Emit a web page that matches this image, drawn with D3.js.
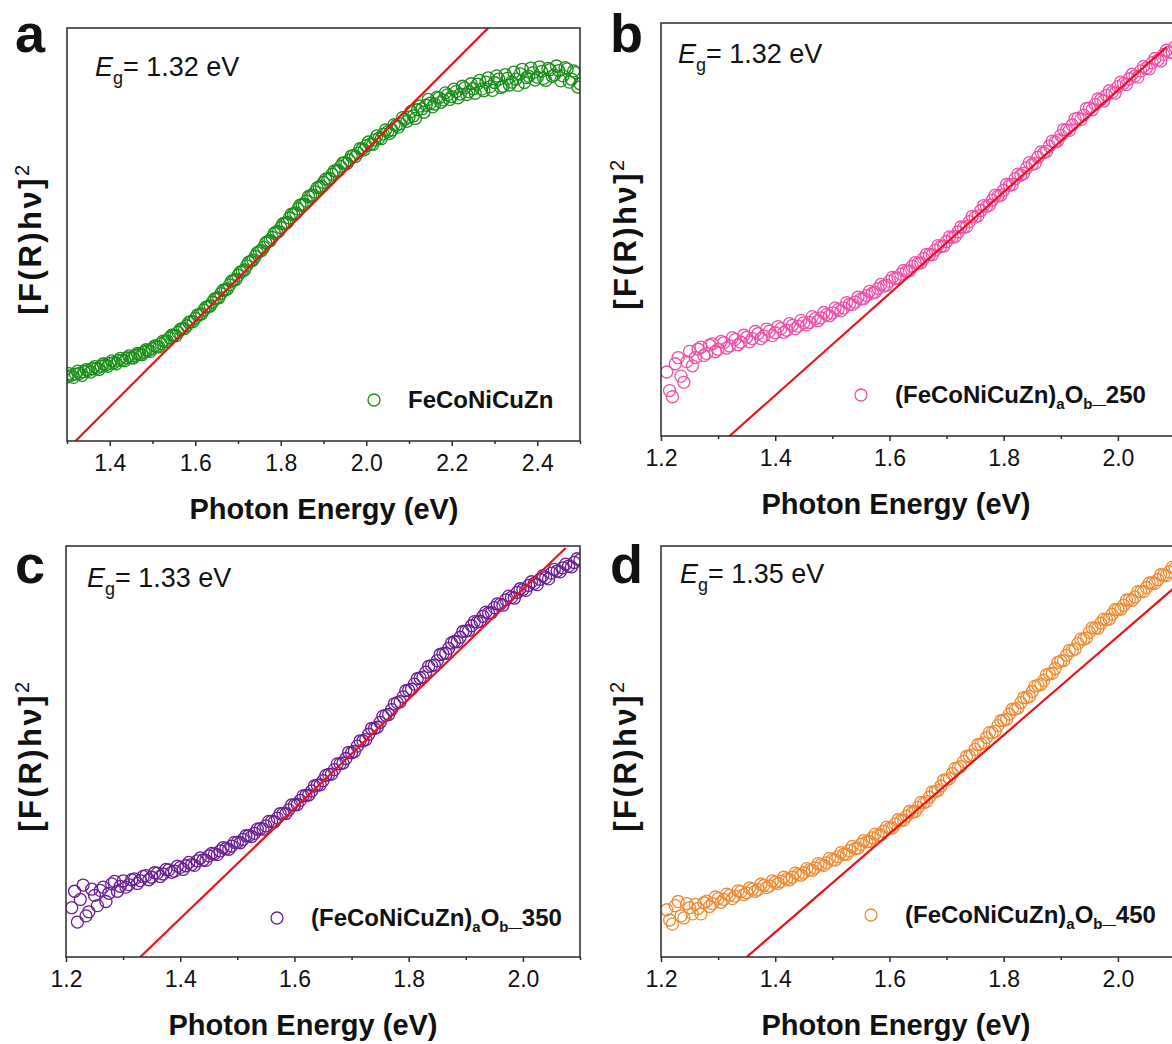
<!DOCTYPE html>
<html>
<head>
<meta charset="utf-8">
<script src="https://cdn.jsdelivr.net/npm/d3@7/dist/d3.min.js"></script>
<style>
body { margin: 0; background: #fff; }
text { font-family: Arial, "Liberation Sans", sans-serif; fill: #111; }
</style>
</head>
<body>
<script>
// Tauc plots, y in arbitrary units (0-100 = full panel height)
// each series: first energy (eV) and a fixed 0.005 eV step
var stepEv = 0.005;

var startA = 1.30;
var signalA = [
  15.5, 16.3, 15.9, 15.4, 16.2, 16.9, 16.4, 15.9, 16.8, 17.3,
  17.1, 16.7, 17.5, 18.0, 17.6, 17.3, 18.1, 18.7, 18.4, 18.1,
  18.8, 19.4, 19.0, 18.7, 19.5, 20.0, 19.6, 19.4, 20.1, 20.6,
  20.2, 20.1, 20.7, 21.2, 21.0, 20.9, 21.5, 22.1, 21.9, 21.7,
  22.4, 23.0, 22.9, 22.8, 23.6, 24.2, 24.1, 24.2, 25.0, 25.6,
  25.6, 25.5, 26.3, 27.0, 27.2, 27.2, 27.9, 28.7, 28.9, 28.9,
  29.7, 30.5, 30.6, 30.8, 31.7, 32.4, 32.5, 32.7, 33.6, 34.4,
  34.5, 34.7, 35.7, 36.5, 36.6, 36.8, 37.8, 38.7, 38.9, 39.1,
  40.1, 40.9, 41.1, 41.4, 42.4, 43.3, 43.5, 43.8, 44.7, 45.6,
  45.9, 46.1, 46.9, 48.0, 48.3, 48.5, 49.3, 50.3, 50.6, 50.7,
  51.7, 52.6, 52.7, 52.9, 54.0, 54.9, 55.0, 55.2, 56.2, 57.1,
  57.2, 57.3, 58.1, 59.2, 59.4, 59.5, 60.3, 61.3, 61.5, 61.7,
  62.6, 63.4, 63.4, 63.6, 64.6, 65.4, 65.3, 65.5, 66.5, 67.3,
  67.4, 67.2, 68.0, 69.0, 69.1, 68.9, 69.7, 70.8, 70.7, 70.5,
  71.5, 72.4, 71.9, 71.8, 72.9, 73.9, 73.4, 73.2, 74.3, 75.3,
  74.9, 74.5, 75.3, 76.6, 76.4, 76.0, 76.8, 78.3, 77.9, 77.4,
  78.4, 79.8, 78.7, 78.1, 80.2, 81.1, 80.4, 79.6, 81.3, 82.7,
  81.8, 80.9, 81.6, 83.2, 83.1, 82.0, 82.6, 84.3, 83.8, 82.7,
  83.4, 85.2, 84.6, 83.1, 84.0, 85.9, 85.5, 83.9, 84.6, 86.5,
  85.3, 84.2, 86.4, 87.3, 85.2, 84.8, 86.9, 87.9, 85.8, 84.9,
  86.8, 88.4, 87.6, 85.6, 85.9, 88.7, 87.8, 86.2, 86.9, 89.3,
  87.6, 86.1, 88.9, 90.0, 86.8, 88.0, 88.3, 90.3, 89.2, 87.4,
  88.1, 90.6, 89.5, 87.8, 87.3, 90.2, 89.9, 88.3, 88.6, 90.8,
  89.7, 87.2, 88.4, 90.4, 90.1, 86.9, 87.6, 89.6, 89.2, 85.7,
  86.5
];

var startB = 1.21;
var signalB = [
  15.5, 11.0, 9.5, 17.5, 19.0, 14.5, 13.0, 18.0, 20.5, 17.0,
  19.0, 21.0, 21.5, 19.5, 20.0, 22.0, 22.3, 20.4, 21.0, 22.9,
  22.6, 21.3, 21.8, 23.8, 23.4, 22.1, 22.7, 24.4, 23.9, 22.8,
  23.6, 25.3, 24.8, 23.6, 24.2, 25.9, 25.4, 24.3, 25.0, 26.5,
  26.0, 25.1, 25.6, 27.2, 26.8, 26.0, 26.6, 28.0, 27.4, 26.9,
  27.5, 28.9, 28.4, 27.9, 28.6, 29.9, 29.4, 29.1, 29.8, 31.0,
  30.6, 30.3, 31.0, 32.3, 31.9, 31.8, 32.4, 33.6, 33.2, 33.3,
  34.0, 35.0, 34.6, 34.8, 35.7, 36.7, 36.3, 36.5, 37.5, 38.4,
  38.2, 38.3, 39.2, 40.1, 39.9, 40.0, 41.1, 42.0, 41.8, 41.9,
  43.0, 44.0, 43.9, 43.9, 45.0, 46.1, 45.9, 46.0, 47.1, 48.2,
  48.1, 48.3, 49.4, 50.6, 50.5, 50.7, 51.9, 53.2, 53.0, 53.3,
  54.6, 55.8, 55.6, 55.9, 57.1, 58.3, 58.1, 58.3, 59.5, 60.9,
  60.7, 60.9, 62.3, 63.4, 63.2, 63.6, 64.9, 66.2, 65.8, 66.0,
  67.5, 68.8, 68.6, 68.9, 70.2, 71.4, 71.2, 71.5, 72.8, 74.2,
  74.1, 74.0, 75.3, 76.8, 76.9, 76.6, 77.7, 79.3, 79.4, 79.0,
  80.3, 81.6, 81.4, 81.1, 82.5, 83.6, 83.2, 83.0, 84.6, 85.7,
  85.4, 85.1, 86.5, 87.6, 87.2, 86.9, 88.4, 89.5, 89.1, 88.9,
  90.4, 91.4, 91.0, 90.8, 92.4, 93.4, 93.0, 92.9, 94.2
];

var startC = 1.21;
var signalC = [
  12.0, 16.0, 8.5, 14.0, 17.5, 10.0, 11.0, 16.5, 15.0, 12.5,
  16.2, 17.0, 13.5, 15.5, 17.8, 18.4, 16.0, 17.2, 18.5, 17.0,
  17.6, 18.8, 19.0, 17.9, 18.6, 19.6, 19.8, 18.8, 19.4, 20.5,
  20.4, 19.6, 20.2, 21.3, 21.2, 20.6, 20.9, 22.1, 21.8, 21.3,
  22.2, 23.0, 22.5, 22.3, 23.4, 24.1, 23.6, 23.5, 24.6, 25.2,
  25.1, 24.9, 25.8, 26.6, 26.4, 26.2, 27.0, 27.9, 27.9, 27.8,
  28.6, 29.5, 29.5, 29.3, 30.1, 31.1, 31.2, 31.1, 31.9, 33.0,
  33.0, 32.9, 33.8, 34.9, 34.9, 34.9, 35.8, 37.0, 37.0, 37.1,
  38.1, 39.2, 39.3, 39.4, 40.4, 41.6, 41.8, 41.9, 42.9, 44.2,
  44.4, 44.5, 45.6, 47.0, 47.0, 47.2, 48.3, 49.8, 49.7, 50.0,
  51.3, 52.6, 52.6, 52.9, 54.2, 55.6, 55.6, 55.9, 57.1, 58.6,
  58.8, 59.0, 60.2, 61.6, 61.9, 62.1, 63.3, 64.8, 64.9, 65.2,
  66.4, 67.7, 67.9, 68.1, 69.3, 70.7, 70.9, 71.0, 72.1, 73.6,
  73.8, 73.9, 75.1, 76.4, 76.7, 76.7, 77.8, 79.2, 79.3, 79.4,
  80.6, 81.6, 81.5, 81.7, 82.9, 83.9, 83.7, 83.8, 85.0, 85.9,
  85.8, 85.6, 86.9, 87.8, 87.5, 87.3, 88.7, 89.6, 89.4, 89.2,
  90.4, 91.3, 90.9, 90.6, 91.9, 92.8, 92.3, 92.0, 93.4, 94.3,
  93.9, 93.7, 94.7, 95.6, 95.1, 94.9, 96.0, 96.9, 96.6
];

var startD = 1.21;
var signalD = [
  11.5, 9.0, 8.0, 12.5, 13.5, 10.0, 9.5, 13.0, 12.0, 10.5,
  12.8, 11.8, 10.5, 13.2, 13.6, 12.3, 13.0, 14.6, 14.2, 13.3,
  14.0, 15.3, 15.0, 14.2, 14.8, 16.1, 15.9, 15.2, 15.6, 16.8,
  16.5, 16.0, 16.4, 17.7, 17.4, 16.9, 17.3, 18.5, 18.2, 17.9,
  18.4, 19.4, 19.0, 18.8, 19.4, 20.4, 20.1, 19.9, 20.5, 21.5,
  21.2, 21.1, 21.7, 22.7, 22.5, 22.3, 22.9, 24.0, 23.7, 23.6,
  24.4, 25.4, 25.0, 25.0, 25.9, 26.9, 26.4, 26.5, 27.4, 28.3,
  28.0, 28.1, 29.0, 29.9, 29.6, 29.7, 30.6, 31.6, 31.3, 31.4,
  32.4, 33.4, 33.2, 33.3, 34.3, 35.4, 35.2, 35.4, 36.4, 37.6,
  37.5, 37.8, 38.9, 40.2, 40.2, 40.5, 41.6, 43.0, 43.1, 43.4,
  44.6, 45.9, 46.0, 46.3, 47.6, 48.8, 48.9, 49.2, 50.5, 51.7,
  51.8, 52.1, 53.4, 54.6, 54.6, 54.9, 56.3, 57.5, 57.6, 57.8,
  59.1, 60.3, 60.3, 60.6, 61.9, 63.1, 63.1, 63.4, 64.6, 65.9,
  66.1, 66.3, 67.3, 68.7, 68.9, 69.0, 70.2, 71.7, 72.0, 72.1,
  73.4, 74.6, 74.6, 74.9, 76.3, 77.4, 77.3, 77.6, 79.0, 80.1,
  80.0, 80.0, 81.2, 82.2, 82.1, 82.2, 83.4, 84.5, 84.6, 84.6,
  85.6, 86.8, 86.9, 86.8, 87.6, 88.9, 88.9, 88.9, 89.9, 91.0,
  91.0, 90.9, 91.8, 93.0, 92.9, 92.8, 93.7, 94.8, 94.6
];

// linear fits: x-intercept (band gap), slope, energy where the drawn line stops
var bandGap = [1.32, 1.32, 1.33, 1.35];
var fitSlope = [103.6, 123.1, 133.6, 120.0];
var fitEnd = [2.285, 2.085, 2.075, 2.10];

var panelLetters = ["a", "b", "c", "d"];
var anneal = ["", "250", "350", "450"];

var ticksA = [1.4, 1.6, 1.8, 2.0, 2.2, 2.4];
var minorA = [1.3, 1.5, 1.7, 1.9, 2.1, 2.3, 2.5];
var ticksB = [1.2, 1.4, 1.6, 1.8, 2.0];
var minorB = [1.3, 1.5, 1.7, 1.9, 2.1];

var colors = ["#1a8f1a", "#f04fa8", "#6a1e93", "#f08a32"];

var svg = d3.select("body").append("svg")
    .attr("width", 1172)
    .attr("height", 1044);

var panels = [
  {start: startA, ys: signalA, dom: [1.3, 2.5], ticks: ticksA, minor: minorA,
   l: 67, t: 28, r: 580, b: 441, lx: 15, ly: 52, ex: 95, ey: 76, legX: 374, legY: 400, titleX: 324, yl: 41},
  {start: startB, ys: signalB, dom: [1.2, 2.1], ticks: ticksB, minor: minorB,
   l: 661, t: 23, r: 1175, b: 436, lx: 610, ly: 52, ex: 678, ey: 63, legX: 861, legY: 395, titleX: 896, yl: 636},
  {start: startC, ys: signalC, dom: [1.2, 2.1], ticks: ticksB, minor: minorB,
   l: 66, t: 546, r: 580, b: 957, lx: 15, ly: 583, ex: 87, ey: 587, legX: 277, legY: 918, titleX: 303, yl: 41},
  {start: startD, ys: signalD, dom: [1.2, 2.1], ticks: ticksB, minor: minorB,
   l: 661, t: 546, r: 1175, b: 957, lx: 610, ly: 583, ex: 680, ey: 583, legX: 871, legY: 915, titleX: 896, yl: 636}
];

panels.forEach(function(p, i) { drawPanel(p, i); });

function drawPanel(p, i) {
    var x = d3.scaleLinear().domain(p.dom).range([p.l, p.r]);
    var y = d3.scaleLinear().domain([0, 100]).range([p.b, p.t]);
    var col = colors[i];

    var pts = p.ys.map(function(v, k) { return {e: p.start + k * stepEv, v: v}; });

    svg.append("clipPath").attr("id", "clip" + i)
      .append("rect")
        .attr("x", p.l).attr("y", p.t)
        .attr("width", p.r - p.l).attr("height", p.b - p.t);

    var g = svg.append("g").attr("clip-path", "url(#clip" + i + ")");

    g.selectAll("circle")
      .data(pts)
      .enter().append("circle")
        .attr("cx", function(d) { return x(d.e); })
        .attr("cy", function(d) { return y(d.v); })
        .attr("r", 6)
        .style("fill", "none")
        .style("stroke", col)
        .style("stroke-width", 1.3);

    var fit = [[bandGap[i], 0], [fitEnd[i], fitSlope[i] * (fitEnd[i] - bandGap[i])]];
    g.append("path")
        .attr("d", d3.line().x(function(d) { return x(d[0]); }).y(function(d) { return y(d[1]); })(fit))
        .style("fill", "none")
        .style("stroke", "#e8141a")
        .style("stroke-width", 2.2);

    // frame
    svg.append("rect")
        .attr("x", p.l).attr("y", p.t)
        .attr("width", p.r - p.l).attr("height", p.b - p.t)
        .style("fill", "none")
        .style("stroke", "#2a2a2a")
        .style("stroke-width", 1.5);

    var ax = svg.append("g")
        .attr("transform", "translate(0," + p.b + ")")
        .call(d3.axisBottom(x).tickValues(p.ticks).tickSize(5).tickPadding(9)
            .tickFormat(d3.format(".1f")));
    ax.select(".domain").remove();
    ax.selectAll("text").style("font-size", "23px").style("font-family", "Arial, 'Liberation Sans', sans-serif").attr("fill", "#111");
    ax.selectAll("line").style("stroke", "#2a2a2a").style("stroke-width", 1.5);

    var mx = svg.append("g")
        .attr("transform", "translate(0," + p.b + ")")
        .call(d3.axisBottom(x).tickValues(p.minor).tickSize(3).tickFormat(""));
    mx.select(".domain").remove();
    mx.selectAll("line").style("stroke", "#2a2a2a").style("stroke-width", 1.5);

    svg.append("text")
        .attr("x", p.titleX).attr("y", p.b + 78)
        .attr("text-anchor", "middle")
        .style("font-size", "29px").style("font-weight", "bold")
        .text("Photon Energy (eV)");

    var yt = svg.append("text")
        .attr("transform", "translate(" + p.yl + "," + ((p.t + p.b) / 2 + 4) + ") rotate(-90)")
        .attr("text-anchor", "middle")
        .style("font-size", "31px").style("font-weight", "bold")
        .style("letter-spacing", "2.5px");
    yt.append("tspan").text("[F(R)h\u03bd]");
    yt.append("tspan").attr("dy", -12).style("font-size", "20px").style("font-weight", "normal").text("2");

    svg.append("text")
        .attr("x", p.lx).attr("y", p.ly)
        .style("font-size", "54px").style("font-weight", "bold")
        .text(panelLetters[i]);

    var eg = svg.append("text")
        .attr("x", p.ex).attr("y", p.ey)
        .style("font-size", "27px");
    eg.append("tspan").style("font-style", "italic").text("E");
    eg.append("tspan").attr("dy", 8).style("font-size", "18px").text("g");
    eg.append("tspan").attr("dy", -8).text("= " + bandGap[i].toFixed(2) + " eV");

    svg.append("circle")
        .attr("cx", p.legX).attr("cy", p.legY).attr("r", 6)
        .style("fill", "none").style("stroke", col).style("stroke-width", 1.3);

    var lg = svg.append("text")
        .attr("x", p.legX + 34).attr("y", p.legY + 8)
        .style("font-size", "24px").style("font-weight", "bold");
    if (anneal[i] === "") {
        lg.text("FeCoNiCuZn");
    } else {
        lg.append("tspan").text("(FeCoNiCuZn)");
        lg.append("tspan").attr("dy", 6).style("font-size", "15px").text("a");
        lg.append("tspan").attr("dy", -6).text("O");
        lg.append("tspan").attr("dy", 6).style("font-size", "15px").text("b");
        lg.append("tspan").attr("dy", -6).text("_" + anneal[i]);
    }
}
</script>
</body>
</html>
